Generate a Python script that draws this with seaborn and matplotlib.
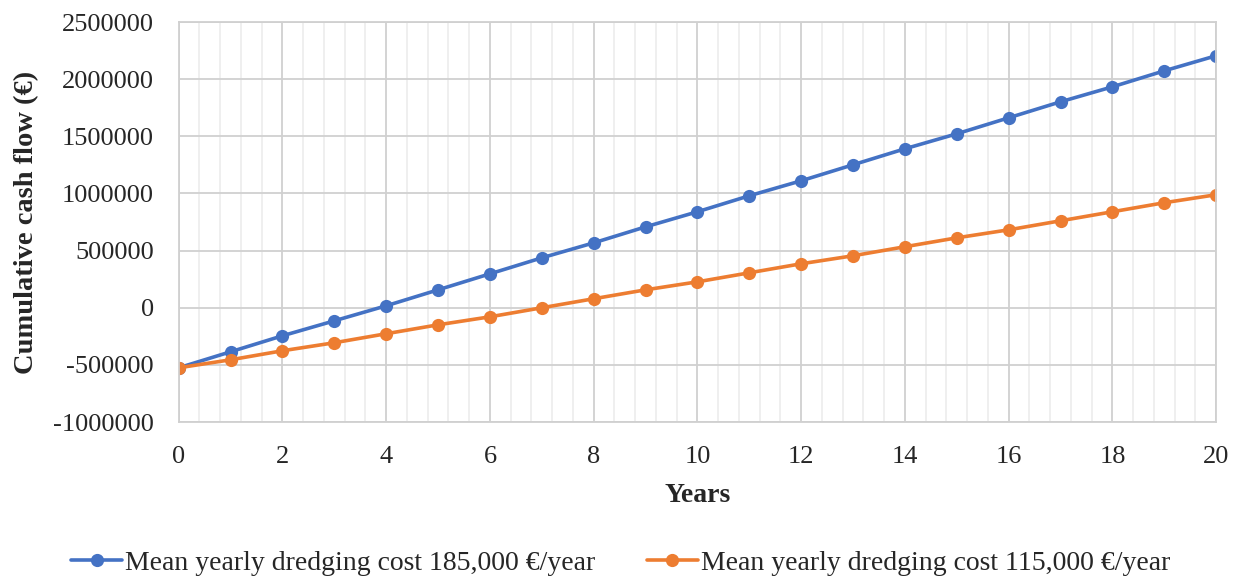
import numpy as np
import pandas as pd
import matplotlib.pyplot as plt
import seaborn as sns
from matplotlib.ticker import MultipleLocator

years = list(range(21))
cost_185k = [-525000, -385000, -245000, -114000, 17500, 157000, 297000, 437000,
             568000, 708000, 840000, 980000, 1111000, 1251000, 1391000, 1522000,
             1662000, 1802000, 1933000, 2073000, 2205000]
cost_115k = [-525000, -455000, -376000, -306000, -227000, -149000, -79000, 0,
             79000, 157000, 227000, 306000, 385000, 455000, 534000, 612000,
             682000, 761000, 840000, 919000, 989000]
labels = ["Mean yearly dredging cost 185,000 €/year",
          "Mean yearly dredging cost 115,000 €/year"]

df = pd.DataFrame({
    "Years": years * 2,
    "cash": cost_185k + cost_115k,
    "series": [labels[0]] * len(years) + [labels[1]] * len(years),
})

sns.set_style("white")
plt.rcParams['font.family'] = ['Liberation Serif', 'DejaVu Serif']
plt.rcParams['axes.unicode_minus'] = False

fig, ax = plt.subplots(figsize=(12.41, 5.79), dpi=100)
fig.subplots_adjust(left=0.144, right=0.980, top=0.962, bottom=0.271)

sns.lineplot(data=df, x="Years", y="cash", hue="series", marker="o",
             palette=["#4472C4", "#ED7D31"], linewidth=2.6, markersize=9.5,
             markeredgewidth=0, ax=ax, legend=True)

ax.set_xlim(0, 20)
ax.set_ylim(-1000000, 2500000)
ax.xaxis.set_major_locator(MultipleLocator(2))
ax.xaxis.set_minor_locator(MultipleLocator(0.4))
ax.yaxis.set_major_locator(MultipleLocator(500000))
ax.grid(which="major", color="#d0d0d0", linewidth=1.3)
ax.grid(which="minor", axis="x", color="#ececec", linewidth=1.2)
ax.set_axisbelow(True)
for s in ax.spines.values():
    s.set_color("#d0d0d0")
    s.set_linewidth(1.3)
ax.tick_params(which="both", length=0, labelsize=19)
ax.tick_params(axis="x", pad=17)
ax.tick_params(axis="y", pad=18)
ax.ticklabel_format(axis="y", style="plain")

ax.set_xlabel("Years", fontsize=20, fontweight="bold", labelpad=11)
ax.set_ylabel("Cumulative cash flow (€)", fontsize=20.5, fontweight="bold", labelpad=10)

h, l = ax.get_legend_handles_labels()
ax.get_legend().remove()
fig.legend(h, l, loc="center", bbox_to_anchor=(0.5, 0.028), ncol=2,
           frameon=False, fontsize=20, handlelength=1.85, handletextpad=0.1,
           columnspacing=1.85, borderaxespad=0)

fig.savefig("out.png")
plt.close(fig)
